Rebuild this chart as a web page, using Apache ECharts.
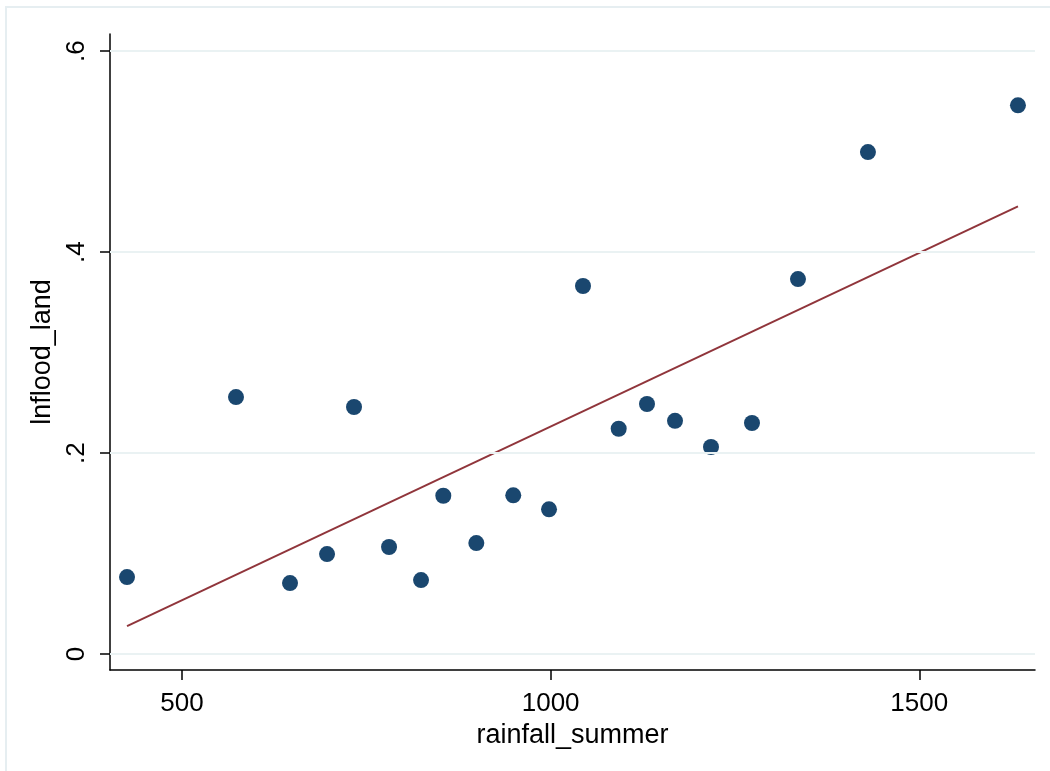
<!DOCTYPE html>
<html>
<head>
<meta charset="utf-8">
<script src="https://cdn.jsdelivr.net/npm/echarts@6/dist/echarts.min.js"></script>
<style>
html,body{margin:0;padding:0;background:#fff;}
#container{width:1050px;height:771px;}
</style>
</head>
<body>
<div id="container"></div>
<script>
// rainfall_summer vs lnflood_land
var rainfall = [425.4, 573.2, 646.5, 696.7, 733.3, 780.8, 824.2, 854.4, 899.2, 949.3,
                997.8, 1043.9, 1092.3, 1130.7, 1168.7, 1217.5, 1273.1, 1335.5, 1430.4, 1633.9];
var lnflood = [0.0766, 0.2557, 0.0706, 0.0995, 0.2458, 0.1065, 0.0736, 0.1575, 0.1104, 0.1579,
               0.1440, 0.3662, 0.2242, 0.2488, 0.2321, 0.2060, 0.2299, 0.3731, 0.4995, 0.5460];
// fitted line ends
var fitX = [425.4, 1633.9];
var fitY = [0.0278, 0.4455];
var xTicks = [500, 1000, 1500];
var yTickVals = [0, 0.2, 0.4, 0.6];
var yTickText = ['0', '.2', '.4', '.6'];

var dom = document.getElementById('container');
var myChart = echarts.init(dom, null, {renderer: 'canvas'});

var points = rainfall.map(function (v, i) { return [v, lnflood[i]]; });
var fit = fitX.map(function (v, i) { return [v, fitY[i]]; });

var font = 'Liberation Sans, Arial, sans-serif';

var option = {
  backgroundColor: '#fff',
  animation: false,
  graphic: [{
    type: 'rect',
    shape: {x: 6, y: 7, width: 1100, height: 800},
    style: {fill: 'none', stroke: '#e6eef1', lineWidth: 2},
    silent: true
  }],
  grid: {left: 110, top: 34, right: 15, bottom: 101},
  xAxis: {
    type: 'value',
    min: 402.3,
    max: 1657,
    name: 'rainfall_summer',
    nameLocation: 'middle',
    nameGap: 41,
    nameTextStyle: {fontFamily: font, fontSize: 27, color: '#000'},
    axisLine: {show: true, onZero: false, lineStyle: {color: '#000', width: 1.5}},
    axisTick: {show: true, length: 10, lineStyle: {color: '#000', width: 1.5},
      customValues: xTicks},
    axisLabel: {fontFamily: font, fontSize: 26, color: '#000', margin: 21,
      customValues: xTicks,
      formatter: function (v) { return String(v); }},
    splitLine: {show: false}
  },
  yAxis: {
    type: 'value',
    min: -0.0159,
    max: 0.617,
    name: 'lnflood_land',
    nameLocation: 'middle',
    nameGap: 46,
    nameRotate: 90,
    nameTextStyle: {fontFamily: font, fontSize: 27, color: '#000'},
    axisLine: {show: true, onZero: false, lineStyle: {color: '#000', width: 1.5}},
    axisTick: {show: true, length: 10, lineStyle: {color: '#000', width: 1.5},
      customValues: yTickVals},
    axisLabel: {fontFamily: font, fontSize: 26, color: '#000', margin: 20, rotate: 90,
      customValues: yTickVals,
      formatter: function (v) {
        var i = yTickVals.indexOf(Math.round(v * 10) / 10);
        return i >= 0 ? yTickText[i] : '';
      }},
    splitLine: {show: false}
  },
  series: [
    {
      type: 'line',
      data: [],
      silent: true,
      markLine: {
        silent: true,
        symbol: 'none',
        label: {show: false},
        lineStyle: {color: '#eaf2f3', width: 2, type: 'solid'},
        data: yTickVals.map(function (v) { return {yAxis: v}; })
      }
    },
    {
      type: 'line',
      data: fit,
      showSymbol: false,
      lineStyle: {color: '#90353b', width: 2},
      z: 3
    },
    {
      type: 'scatter',
      data: points,
      symbolSize: 16,
      itemStyle: {color: '#1a476f', opacity: 1},
      z: 4
    }
  ]
};
myChart.setOption(option);
window.addEventListener('resize', function () { myChart.resize(); });
</script>
</body>
</html>
